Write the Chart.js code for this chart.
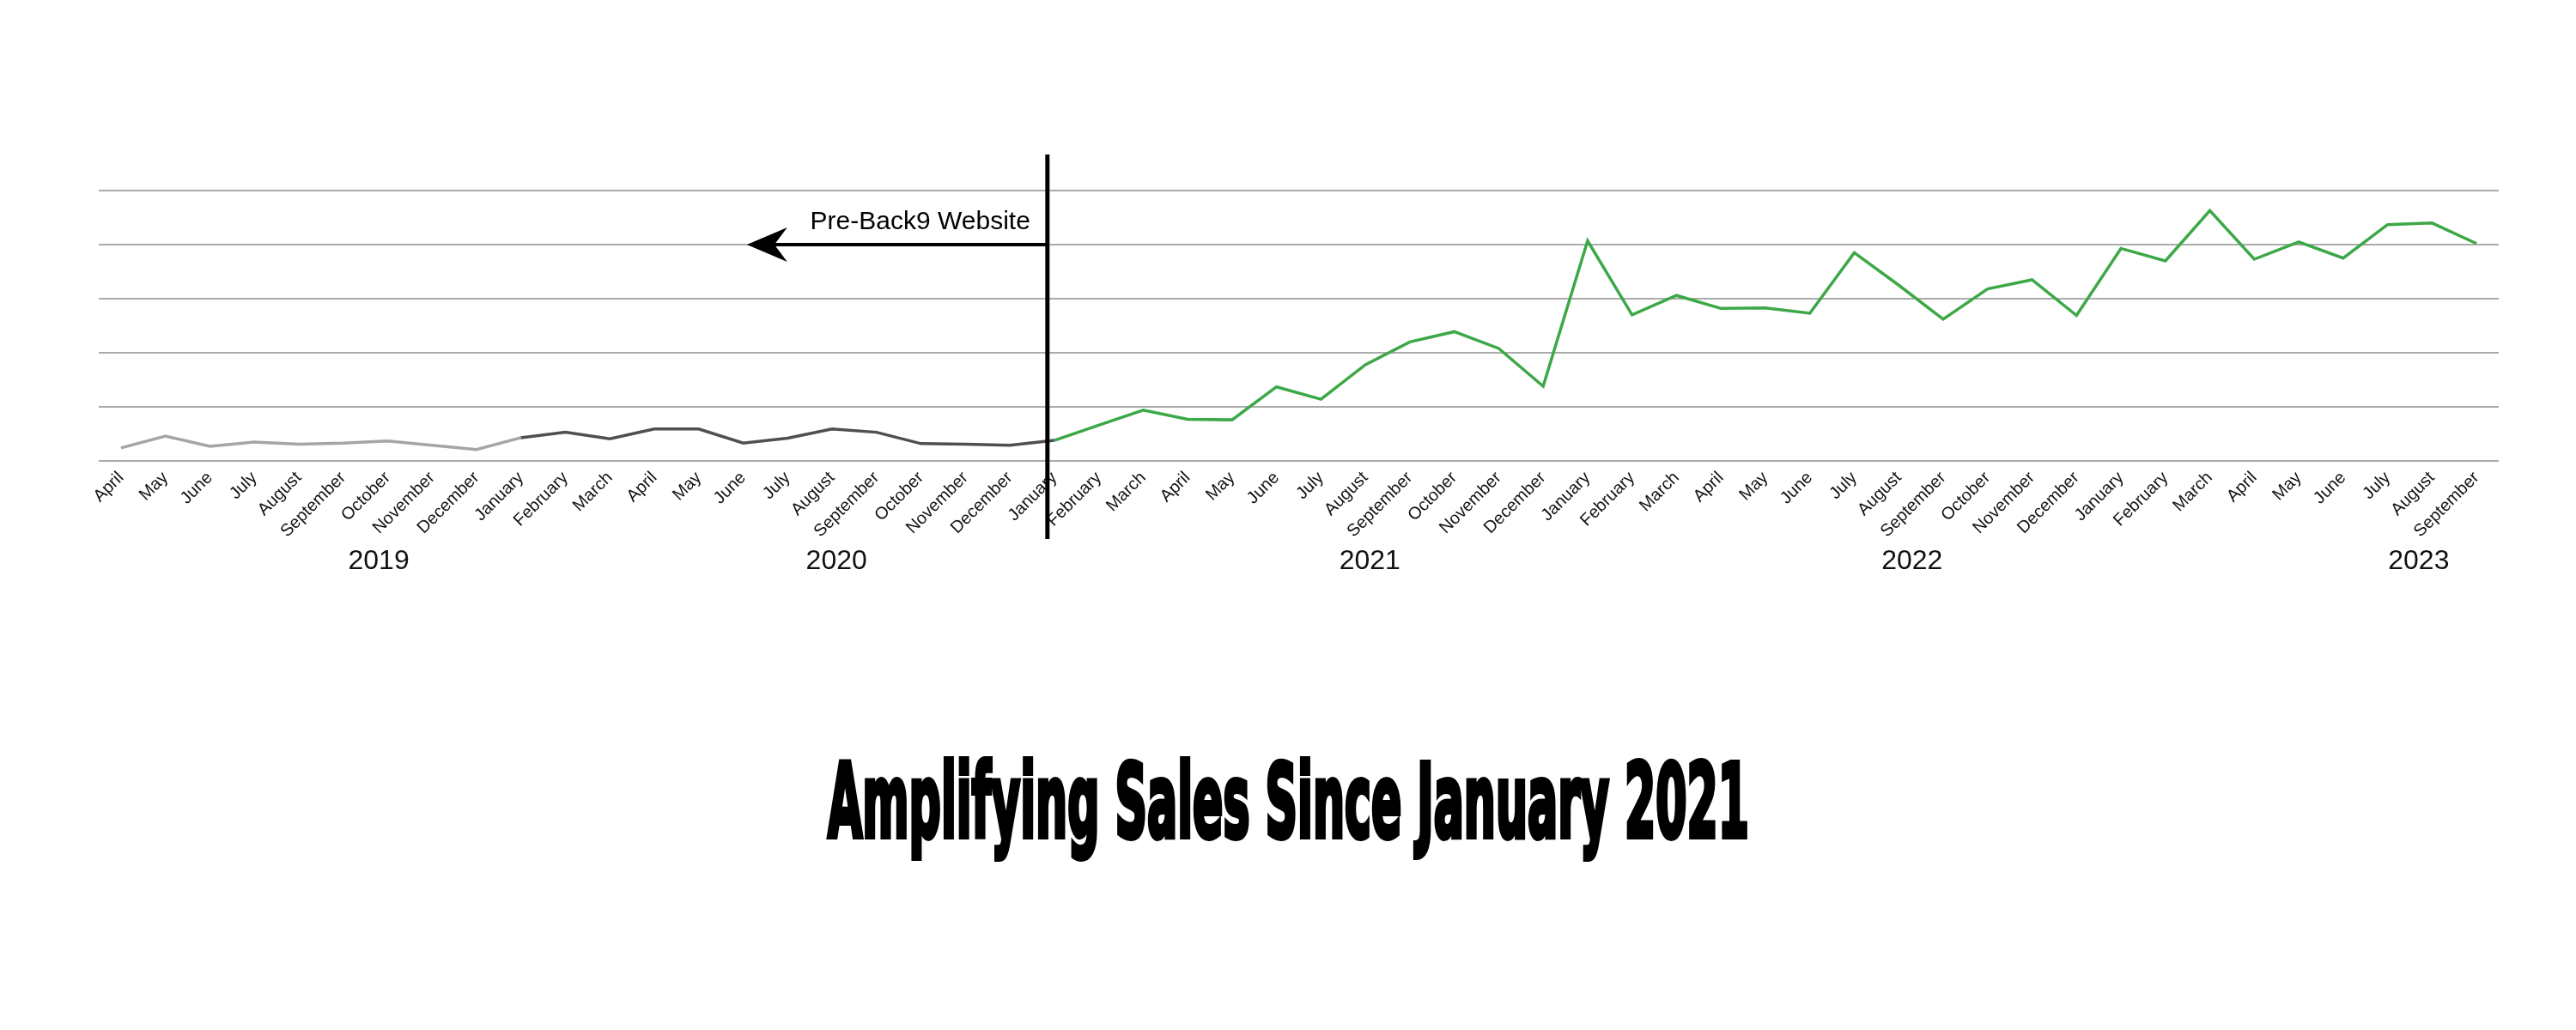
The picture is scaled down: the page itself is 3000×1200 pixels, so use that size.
<!DOCTYPE html>
<html>
<head>
<meta charset="utf-8">
<script src="https://cdn.jsdelivr.net/npm/chart.js@4.4.0/dist/chart.umd.min.js"></script>
<style>
    body { margin: 0; background: #fff; width: 3000px; height: 1200px; position: relative; overflow: hidden; }
    #wrap { position: absolute; left: 0; top: 0; width: 3000px; height: 720px; }
    #title {
        position: absolute; top: 875px; left: 0; white-space: nowrap;
        font-family: "Liberation Sans Narrow", "DejaVu Sans Condensed", "Liberation Sans", sans-serif;
        font-weight: bold; font-size: 119px; line-height: 1; color: #000;
        -webkit-text-stroke: 6px #000; transform-origin: 0 0;
    }
</style>
</head>
<body>
<div id="wrap"><canvas id="salesChart" width="3000" height="720"></canvas></div>
<div id="title">Amplifying Sales Since January 2021</div>
<script>
// month labels, April 2019 .. September 2023
const months = ['January','February','March','April','May','June','July','August','September','October','November','December']
const labels = [
    ...months.slice(3),   // 2019
    ...months,            // 2020
    ...months,            // 2021
    ...months,            // 2022
    ...months.slice(0, 9) // 2023
]

// monthly sales, in gridline units
const sales2019 = [0.24, 0.46, 0.27, 0.35, 0.31, 0.33, 0.37, 0.29, 0.21]
const sales2020 = [0.43, 0.53, 0.41, 0.59, 0.59, 0.33, 0.42, 0.59, 0.53, 0.32, 0.31, 0.29]
const sales2021 = [0.38, 0.66, 0.94, 0.77, 0.76, 1.37, 1.14, 1.78, 2.20, 2.39, 2.08, 1.38]
const sales2022 = [4.07, 2.70, 3.06, 2.82, 2.83, 2.73, 3.85, 3.25, 2.62, 3.18, 3.35, 2.69]
const sales2023 = [3.93, 3.70, 4.63, 3.73, 4.05, 3.75, 4.37, 4.40, 4.02]
const sales = [...sales2019, ...sales2020, ...sales2021, ...sales2022, ...sales2023]

const years = ['2019', '2020', '2021', '2022', '2023']
const yearAt = [5.8, 16.1, 28.1, 40.3, 51.7]   // where each year label sits, in month slots
const launchIndex = 21                          // January 2021
const annotationText = 'Pre-Back9 Website'

function segColor(ctx) {
    const i = ctx.p0DataIndex
    if (i < 9) return '#a5a5a5'
    if (i < launchIndex) return '#4f4f4f'
    return '#3ca847'
}

const annotations = {
    id: 'annotations',
    afterDatasetsDraw(chart) {
        const c = chart.ctx
        const x = chart.scales.x
        const y = chart.scales.y
        const area = chart.chartArea
        const lx = x.getPixelForValue(launchIndex) - 8
        const ay = y.getPixelForValue(4)

        c.save()
        // launch line
        c.strokeStyle = '#000'
        c.lineWidth = 5
        c.beginPath()
        c.moveTo(lx, area.top - 42)
        c.lineTo(lx, area.bottom + 91)
        c.stroke()

        // arrow
        const tip = lx - 350
        c.lineWidth = 4
        c.beginPath()
        c.moveTo(lx, ay)
        c.lineTo(tip + 30, ay)
        c.stroke()
        c.fillStyle = '#000'
        c.beginPath()
        c.moveTo(tip, ay)
        c.lineTo(tip + 47, ay - 20)
        c.lineTo(tip + 32, ay)
        c.lineTo(tip + 47, ay + 20)
        c.closePath()
        c.fill()

        c.font = '30px "Liberation Sans", Arial, sans-serif'
        c.textAlign = 'right'
        c.textBaseline = 'alphabetic'
        c.fillText(annotationText, lx - 20, ay - 18)

        // year labels
        c.font = '32px "Liberation Sans", Arial, sans-serif'
        c.fillStyle = '#111'
        c.textAlign = 'center'
        c.textBaseline = 'middle'
        years.forEach((yr, i) => {
            c.fillText(yr, x.getPixelForValue(yearAt[i]), area.bottom + 117)
        })
        c.restore()
    }
}

const salesChart = new Chart(document.getElementById('salesChart'), {
    type: 'line',
    data: {
        labels: labels,
        datasets: [{
            data: sales,
            borderWidth: 3.5,
            pointRadius: 0,
            tension: 0,
            segment: { borderColor: segColor },
            borderColor: '#3ca847'
        }]
    },
    options: {
        responsive: false,
        animation: false,
        devicePixelRatio: 1,
        layout: { padding: { left: 115, right: 90, top: 222, bottom: 63 } },
        plugins: { legend: { display: false }, tooltip: { enabled: false } },
        scales: {
            x: {
                offset: true,
                grid: { display: false },
                border: { display: false },
                ticks: {
                    autoSkip: false, minRotation: 45, maxRotation: 45, padding: 0,
                    color: '#111',
                    font: { family: '"Liberation Sans", Arial, sans-serif', size: 20 }
                },
                afterFit: scale => { scale.height = 120 }
            },
            y: {
                min: 0,
                max: 5,
                ticks: { display: false, stepSize: 1 },
                border: { display: false },
                grid: { color: '#ababab', lineWidth: 2, drawTicks: false },
                afterFit: scale => { scale.width = 0 }
            }
        }
    },
    plugins: [annotations]
})

// squeeze the title to the width it has in the picture
const title = document.getElementById('title')
const w = title.offsetWidth
const sx = 1073 / w
title.style.transform = `scaleX(${sx})`
title.style.left = (1500 - 1073 / 2) + 'px'
</script>
</body>
</html>
